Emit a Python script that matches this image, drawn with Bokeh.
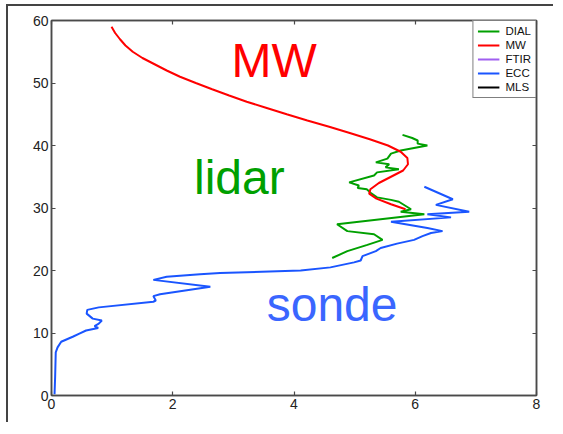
from bokeh.plotting import figure
from bokeh.models import (LinearAxis, Range1d, Label, Legend, LegendItem, FixedTicker,
                          CustomJSTickFormatter, InlineStyleSheet)
from bokeh.embed import file_html
from bokeh.resources import INLINE

NAN = float("nan")

# ---- data (ozone vs altitude) ----
mw_x = [0.99, 1.05, 1.13, 1.22, 1.34, 1.50, 1.70, 1.90, 2.12, 2.38, 2.65, 2.93, 3.22,
        3.55, 3.88, 4.22, 4.58, 4.92, 5.25, 5.55, 5.76, 5.87, 5.88, 5.80, 5.60, 5.40,
        5.26, 5.24, 5.36, 5.60, 5.84]
mw_y = [59.0, 58.0, 57.0, 56.0, 55.0, 54.0, 53.0, 52.0, 51.0, 50.0, 49.0, 48.0, 47.0,
        46.0, 45.0, 44.0, 43.0, 42.0, 41.0, 40.0, 39.0, 38.0, 37.0, 36.0, 35.0, 34.0,
        33.0, 32.3, 31.5, 30.6, 29.8]

dial_x = [5.79, 5.95, 6.04, 6.04, 6.20, 5.76, 5.60, 5.54, 5.35, 5.57, 5.51, 5.73, 5.37,
          5.32, 4.91, 5.07, 5.05, 5.20, 5.28, 5.37, 5.60, 5.73, 5.93, 5.76, 6.15, 4.71,
          4.88, 5.32, 5.46, 5.21, 4.88, 4.63]
dial_y = [41.7, 41.2, 40.8, 40.3, 40.0, 39.2, 38.7, 37.9, 37.3, 37.0, 36.5, 36.2, 35.7,
          35.2, 34.1, 33.6, 33.2, 33.0, 32.3, 31.7, 31.3, 31.0, 29.8, 29.4, 29.0, 27.4,
          26.3, 25.8, 24.9, 24.1, 23.1, 22.0]

ecc_x = [0.05, 0.06, 0.07, 0.10, 0.16, 0.35, 0.46, 0.57, 0.77, 0.71, 0.78, 0.83, 0.68,
         0.58, 0.59, 0.78, 1.68, 1.72, 1.68, 1.79, 2.62, 1.68, 1.90, 2.45, 2.78, 4.11,
         4.60, 4.99, 5.10, 5.13, 5.35, 5.43, 5.70, 5.98, 6.12, 6.26, 6.45, 6.20, 5.60,
         6.59, 6.20, 6.89, 6.34, 6.62, 6.15]
ecc_y = [0.2, 3.0, 6.9, 7.7, 8.6, 9.4, 9.9, 10.4, 10.8, 11.1, 11.5, 12.0, 12.3,
         13.1, 13.7, 14.1, 15.0, 15.2, 15.9, 16.2, 17.4, 18.5, 19.0, 19.4, 19.6, 20.0,
         20.5, 21.3, 21.6, 22.3, 23.1, 23.6, 24.3, 24.9, 25.5, 26.0, 26.3, 26.8, 27.8,
         28.5, 29.0, 29.4, 30.5, 31.4, 33.4]

# no profile shown for these two instruments (legend only)
ftir_x, ftir_y = [NAN], [NAN]
mls_x, mls_y = [NAN], [NAN]

series_names = ["DIAL", "MW", "FTIR", "ECC", "MLS"]
series_colors = ["#00a000", "#ff0000", "#a05ff0", "#1a55ff", "#000000"]

x_ticks = [0, 2, 4, 6, 8]
y_ticks = [0, 10, 20, 30, 40, 50, 60]

FONT = "Liberation Sans"
AX = "#4a4a4a"

p = figure(width=547, height=418, output_backend="svg", toolbar_location=None,
           x_range=Range1d(0, 8), y_range=Range1d(0, 60),
           x_axis_location="below", y_axis_location="left",
           min_border_left=43, min_border_right=19, min_border_top=14, min_border_bottom=29)
p.outline_line_color = AX
p.outline_line_width = 1.5
p.grid.visible = False
p.stylesheets = [InlineStyleSheet(css=":host { border-left: 2px solid #444; border-top: 2px solid #444; margin-left: 6px; margin-top: 4px; }")]

def style_axis(ax, labels):
    ax.axis_line_color = AX
    ax.axis_line_width = 1.5
    ax.major_tick_line_color = AX
    ax.major_tick_line_width = 1.2
    ax.major_tick_in = 4
    ax.major_tick_out = 0
    ax.minor_tick_line_color = None
    if labels:
        ax.major_label_text_font = FONT
        ax.major_label_text_font_size = "14px"
        ax.major_label_text_color = "#222222"
        ax.major_label_standoff = 3
    else:
        ax.formatter = CustomJSTickFormatter(code="return ''")
        ax.major_label_standoff = 0

style_axis(p.xaxis[0], True); p.xaxis[0].ticker = FixedTicker(ticks=x_ticks)
style_axis(p.yaxis[0], True); p.yaxis[0].ticker = FixedTicker(ticks=y_ticks)
xt = LinearAxis(); style_axis(xt, False); xt.ticker = FixedTicker(ticks=x_ticks)
yr = LinearAxis(); style_axis(yr, False); yr.ticker = FixedTicker(ticks=y_ticks)
p.add_layout(xt, "above")
p.add_layout(yr, "right")

data = {
    "DIAL": (dial_x, dial_y),
    "MW": (mw_x, mw_y),
    "FTIR": (ftir_x, ftir_y),
    "ECC": (ecc_x, ecc_y),
    "MLS": (mls_x, mls_y),
}
items = []
for name, col in zip(series_names, series_colors):
    xs, ys = data[name]
    r = p.line(xs, ys, line_color=col, line_width=2)
    items.append(LegendItem(label=name, renderers=[r]))

legend = Legend(items=items, location="top_right")
legend.margin = 0
legend.padding = 4
legend.spacing = 2
legend.glyph_width = 22
legend.glyph_height = 12
legend.label_height = 12
legend.label_standoff = 6
legend.label_text_font = FONT
legend.label_text_font_size = "11.5px"
legend.label_text_color = "#111111"
legend.border_line_color = "#000000"
legend.border_line_width = 1
legend.background_fill_alpha = 1
p.add_layout(legend, "center")

p.add_layout(Label(x=2.97, y=49.3, text="MW", text_color="#ff0000",
                   text_font=FONT, text_font_size="48px"))
p.add_layout(Label(x=2.35, y=30.7, text="lidar", text_color="#00a000",
                   text_font=FONT, text_font_size="48px"))
p.add_layout(Label(x=3.55, y=10.25, text="sonde", text_color="#3a66ff",
                   text_font=FONT, text_font_size="48px"))

open("out.html", "w").write(file_html(p, INLINE))
